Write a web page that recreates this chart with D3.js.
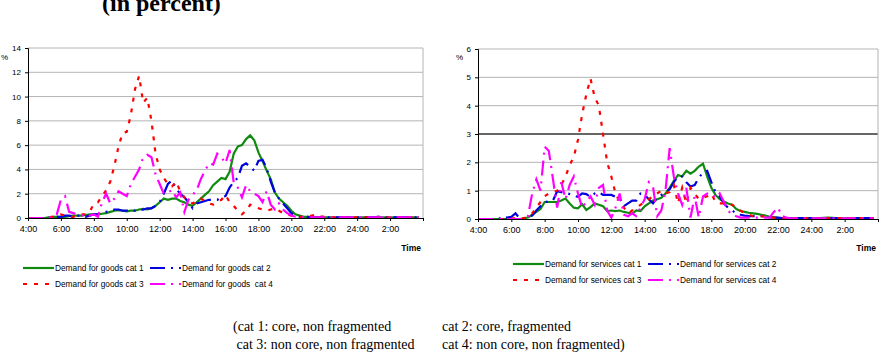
<!DOCTYPE html>
<html>
<head>
<meta charset="utf-8">
<script src="https://cdnjs.cloudflare.com/ajax/libs/d3/7.8.5/d3.min.js"></script>
<style>
  body { margin: 0; background: #fff; }
  svg { display: block; }
  text { font-family: Arial, "Liberation Sans", sans-serif; fill: #000; }
  .serif { font-family: "Liberation Serif", "Times New Roman", serif; }
</style>
</head>
<body>
<svg id="chart" width="880" height="358"></svg>
<script>
// 15-minute slots from 4:00 to 3:45 next day (96 values per series)
var slotHours = 0.25, startHour = 4, endHour = 28;

var tickHours  = [4, 6, 8, 10, 12, 14, 16, 18, 20, 22, 24, 26, 28];
var tickLabels = ["4:00","6:00","8:00","10:00","12:00","14:00","16:00","18:00","20:00","22:00","24:00","2:00",""];

var goodsTicks    = [0, 2, 4, 6, 8, 10, 12, 14];
var servicesTicks = [0, 1, 2, 3, 4, 5, 6];

var goodsNames    = ["Demand for goods cat 1", "Demand for goods cat 2", "Demand for goods cat 3", "Demand for goods  cat 4"];
var servicesNames = ["Demand for services cat 1", "Demand for services cat 2", "Demand for services cat 3", "Demand for services cat 4"];

var goodsCat1 = [0,0,0,0,0,0.05,0.1,0.1, 0.1,0.1,0.15,0.2,0.2,0.2,0.25,0.3,
  0.3,0.3,0.35,0.4,0.5,0.6,0.65,0.6, 0.55,0.6,0.6,0.7,0.75,0.7,0.8,1.0,
  1.3,1.6,1.5,1.6,1.6,1.4,1.3,1.1, 1.0,1.3,1.6,1.9,2.2,2.7,3.0,3.3,
  3.2,3.8,5.3,5.9,6.0,6.5,6.8,6.4, 5.4,4.7,3.9,3.2,2.1,1.6,1.3,1.0,
  0.6,0.3,0.2,0.1,0.1,0.1,0.05,0.05, 0.05,0.05,0.05,0.05,0.05,0.05,0.05,0.05,
  0.05,0.05,0.05,0.05,0.05,0.05,0.05,0.05, 0.05,0.05,0.05,0.05,0.05,0.05,0.05,0.05];
var goodsCat2 = [0,0,0,0,0,0.05,0.1,0.1, 0.1,0.2,0.2,0.1,0.2,0.2,0.1,0.2,
  0.3,0.3,0.4,0.5,0.6,0.7,0.7,0.6, 0.6,0.7,0.6,0.6,0.7,0.8,0.8,1.0,
  1.3,2.0,2.8,3.1,2.4,2.0,1.7,1.3, 0.8,1.2,1.3,1.4,1.5,1.5,1.5,1.7,
  1.8,2.5,3.0,3.3,4.3,4.5,4.2,3.9, 4.7,4.8,4.1,3.0,2.1,1.6,1.2,0.8,
  0.4,0.2,0.1,0.1,0.1,0.05,0.05,0.05, 0.05,0.05,0.05,0.05,0.05,0.05,0.05,0.05,
  0.05,0.05,0.05,0.05,0.05,0.1,0.15,0.05, 0.05,0.05,0.05,0.05,0.05,0.05,0.05,0.05];
var goodsCat3 = [0,0,0,0,0,0.05,0.1,0.1, 0.3,0.2,0.1,0.1,0.2,0.3,0.3,0.5,
  1.2,1.3,1.8,2.3,3.0,4.3,5.9,7.0, 7.1,8.5,10.6,11.7,9.5,9.9,8.0,5.3,
  4.0,3.3,2.8,2.6,3.0,2.2,1.7,1.4, 1.2,1.4,1.6,1.4,1.2,1.1,1.3,1.5,
  1.9,1.3,1.0,0.6,0.3,0.6,1.1,0.9, 0.8,0.7,0.6,0.7,0.8,0.6,0.4,0.3,
  0.2,0.15,0.1,0.1,0.1,0.2,0.3,0.15, 0.1,0.05,0.05,0.05,0.05,0.05,0.05,0.05,
  0.05,0.05,0.05,0.05,0.05,0.05,0.05,0.05, 0.05,0.05,0.05,0.05,0.05,0.05,0.05,0.05];
var goodsCat4 = [0,0,0,0,0,0,0.2,0.3, 1.5,1.8,0.5,0.4,0.3,0.2,0.3,0.2,
  0.3,0.1,1.3,2.0,1.2,1.6,2.2,2.0, 1.8,2.8,3.4,4.0,5.0,5.2,5.0,3.6,
  2.8,2.0,2.1,2.3,1.7,2.1,0.5,1.5, 1.9,2.3,3.2,3.9,4.5,4.4,5.3,5.0,
  4.5,5.6,2.9,2.5,1.7,2.7,2.2,2.0, 1.8,1.3,2.2,1.1,0.7,1.2,0.7,0.4,
  0.2,0.1,0.05,0.05,0.05,0.05,0.05,0.05, 0.05,0.05,0.05,0.05,0.05,0.05,0.05,0.05,
  0.05,0.05,0.05,0.05,0.05,0.05,0.05,0.05, 0.05,0.05,0.05,0.05,0.05,0.05,0.05,0.05];

var servicesCat1 = [0,0,0,0,0,0,0,0, 0,0,0,0.02,0.05,0.15,0.25,0.35,
  0.6,0.6,0.6,0.6,0.65,0.72,0.55,0.4, 0.38,0.52,0.32,0.42,0.55,0.5,0.45,0.28,
  0.3,0.28,0.3,0.25,0.22,0.18,0.3,0.28, 0.45,0.55,0.65,0.7,0.75,0.9,1.1,1.35,
  1.55,1.5,1.7,1.6,1.7,1.85,1.95,1.5, 1.1,0.85,0.7,0.62,0.55,0.5,0.35,0.28,
  0.25,0.22,0.2,0.18,0.15,0.12,0.08,0.06, 0.04,0.03,0.03,0.03,0.03,0.03,0.03,0.03,
  0.03,0.03,0.03,0.04,0.05,0.04,0.03,0.03, 0.03,0.03,0.03,0.03,0.03,0.03,0.03,0.03];
var servicesCat2 = [0,0,0,0,0,0,0.1,0.05, 0.08,0.2,0.02,0.02,0.08,0.12,0.3,0.45,
  0.6,0.62,0.65,0.98,0.95,0.92,0.88,0.82, 0.78,0.9,0.88,0.78,0.9,0.95,0.85,0.85,
  0.85,0.78,0.72,0.45,0.55,0.65,0.65,0.9, 0.85,0.7,0.55,0.75,0.85,0.95,1.05,1.3,
  1.5,1.5,1.3,1.15,1.2,1.45,1.65,1.7, 1.3,0.95,0.8,0.55,0.4,0.3,0.2,0.15,
  0.12,0.1,0.1,0.1,0.1,0.08,0.06,0.05, 0.05,0.03,0.03,0.03,0.03,0.03,0.03,0.03,
  0.03,0.03,0.03,0.03,0.03,0.03,0.03,0.03, 0.03,0.03,0.03,0.03,0.03,0.03,0.03,0.03];
var servicesCat3 = [0,0,0,0,0,0,0,0, 0.02,0.02,0.02,0.02,0.1,0.2,0.4,0.6,
  0.8,0.9,0.95,1.0,1.2,1.5,1.9,2.2, 2.8,3.7,4.4,4.95,4.3,4.0,3.0,2.0,
  1.5,0.9,0.6,0.4,0.2,0.3,0.4,0.5, 0.6,0.7,0.8,0.9,1.0,0.9,0.95,1.2,
  0.55,1.1,0.55,1.1,0.9,0.7,0.75,0.8, 0.9,0.6,0.55,0.55,0.55,0.5,0.4,0.3,
  0.2,0.15,0.1,0.1,0.1,0.08,0.05,0.05, 0.03,0.03,0.03,0.03,0.03,0.03,0.03,0.03,
  0.03,0.03,0.03,0.03,0.03,0.03,0.03,0.03, 0.03,0.03,0.03,0.03,0.03,0.03,0.03,0.03];
var servicesCat4 = [0,0,0,0,0,0,0,0, 0,0,0,0,0.1,0.9,1.4,1.0,
  2.55,2.4,1.4,0.4,1.3,0.7,1.2,1.5, 0.9,0.4,0.6,0.8,0.5,1.1,1.2,0.3,
  0.05,0.4,0.9,0.15,0.1,0.2,0.1,0.4, 0.7,1.3,1.15,0.1,0.3,1.0,2.5,1.5,
  0.9,0.5,1.1,0.05,0.8,0.05,0.8,0.9, 0.9,0.75,0.9,0.6,0.3,0.15,0.1,0.05,
  0.05,0.05,0.05,0.05,0.05,0.05,0.05,0.25, 0.4,0.1,0.05,0.02,0.02,0.02,0.02,0.02,
  0.02,0.02,0.02,0.02,0.02,0.02,0.02,0.02, 0.02,0.02,0.02,0.02,0.02,0.02,0.02,0.02];

var colors = ["#108a10", "#0000e0", "#ff0000", "#ff00ff"];
var dashes = [null, "15,6,2,6", "4,7", "15,6,2,6"];

var svg = d3.select("#chart");

function drawPanel(p) {
  var x = d3.scaleLinear().domain([startHour, endHour]).range([p.left, p.right]);
  var y = d3.scaleLinear().domain([0, p.yMax]).range([p.bottom, p.top]);
  var g = svg.append("g");

  // gridlines
  g.selectAll("line.grid").data(p.ticks.slice(1)).enter()
    .append("line")
    .attr("x1", p.left).attr("x2", p.right)
    .attr("y1", function(d){ return y(d); }).attr("y2", function(d){ return y(d); })
    .attr("stroke", function(d){ return d === p.darkLine ? "#333" : "#b4b4b4"; })
    .attr("stroke-width", function(d){ return d === p.darkLine ? 1.5 : 1; });

  // right border
  g.append("line")
    .attr("x1", p.right).attr("x2", p.right).attr("y1", p.top).attr("y2", p.bottom)
    .attr("stroke", "#b4b4b4");

  // series
  var line = d3.line()
    .x(function(d, i){ return x(startHour + i * slotHours); })
    .y(function(d){ return y(d); });

  g.selectAll("path.series").data(p.series).enter()
    .append("path")
    .attr("class", "series")
    .attr("d", function(d){ return line(d); })
    .attr("fill", "none")
    .attr("stroke", function(d, i){ return colors[i]; })
    .attr("stroke-width", 2.2)
    .attr("stroke-dasharray", function(d, i){ return dashes[i]; });

  // axes
  var ya = g.append("g").attr("transform", "translate(" + p.left + ",0)")
    .call(d3.axisLeft(y).tickValues(p.ticks).tickFormat(function(d){ return d; })
      .tickSize(3).tickPadding(4));
  ya.selectAll("text").attr("font-size", 8).attr("font-family", "Arial, sans-serif");

  var xa = g.append("g").attr("transform", "translate(0," + p.bottom + ")")
    .call(d3.axisBottom(x).tickValues(tickHours)
      .tickFormat(function(d, i){ return tickLabels[i]; })
      .tickSize(3).tickPadding(5));
  xa.selectAll("text").attr("font-size", 9).attr("font-family", "Arial, sans-serif");

  g.selectAll(".domain").attr("stroke", "#000");
  g.selectAll(".tick line").attr("stroke", "#000");

  g.append("text").attr("x", p.pctX).attr("y", 60)
    .attr("font-size", 8).text("%");
  g.append("text").attr("x", p.right - 2).attr("y", 251)
    .attr("text-anchor", "end").attr("font-size", 8.5).attr("font-weight", "bold").text("Time");

  // legend
  var lg = g.selectAll("g.legend").data(p.names).enter()
    .append("g")
    .attr("transform", function(d, i){
      return "translate(" + (p.legX + (i % 2) * p.legDx) + "," + (p.legY + Math.floor(i / 2) * 16) + ")";
    });
  lg.append("line")
    .attr("x1", 0).attr("x2", 31).attr("y1", -3).attr("y2", -3)
    .attr("stroke", function(d, i){ return colors[i]; })
    .attr("stroke-width", 2.2)
    .attr("stroke-dasharray", function(d, i){ return dashes[i]; });
  lg.append("text")
    .attr("x", 32).attr("y", 0)
    .attr("font-size", 8.3)
    .style("white-space", "pre")
    .text(function(d){ return d; });
}

drawPanel({
  left: 28, right: 423, top: 48, bottom: 218, yMax: 14, ticks: goodsTicks, darkLine: null,
  series: [goodsCat1, goodsCat2, goodsCat3, goodsCat4], names: goodsNames,
  pctX: 1, legX: 23, legY: 271, legDx: 127
});
drawPanel({
  left: 478, right: 878, top: 49, bottom: 219, yMax: 6, ticks: servicesTicks, darkLine: 3,
  series: [servicesCat1, servicesCat2, servicesCat3, servicesCat4], names: servicesNames,
  pctX: 456, legX: 513, legY: 267, legDx: 135
});

// title (cut off at the top in the source picture)
svg.append("text").attr("class", "serif")
  .attr("x", 102).attr("y", 11)
  .attr("font-size", 24).attr("font-weight", "bold")
  .text("(in percent)");

// category note
var notes = [
  ["(cat 1: core, non fragmented", 233, 331], ["cat 2: core, fragmented", 442, 331],
  [" cat 3: non core, non fragmented", 233, 349], ["cat 4: non core, non fragmented)", 442, 349]
];
svg.selectAll("text.note").data(notes).enter()
  .append("text").attr("class", "serif")
  .attr("x", function(d){ return d[1]; }).attr("y", function(d){ return d[2]; })
  .attr("font-size", 14)
  .style("white-space", "pre")
  .text(function(d){ return d[0]; });
</script>
</body>
</html>
